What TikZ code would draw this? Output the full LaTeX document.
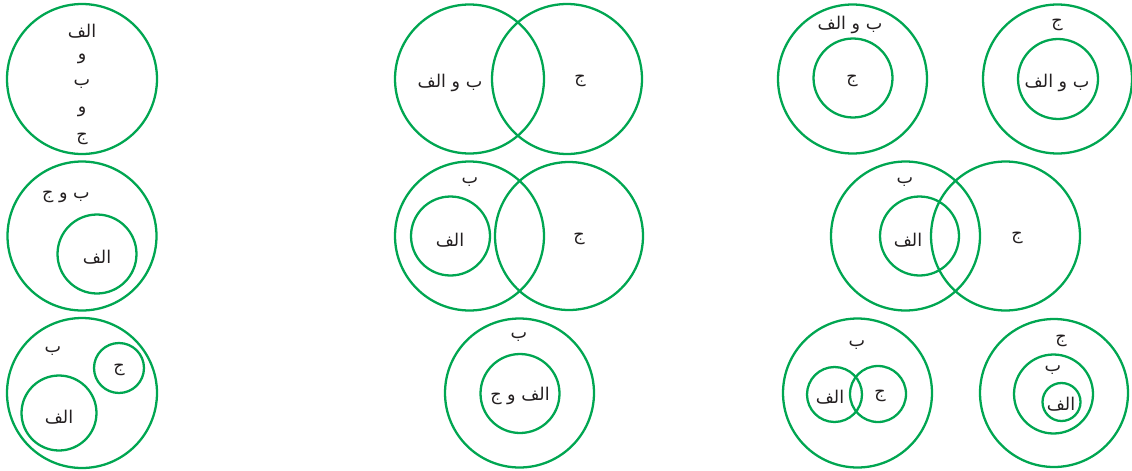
\documentclass[tikz,border=0pt]{standalone}
\usepackage{fontspec}
\newfontfamily\arabicfont[Script=Arabic]{DejaVu Sans}
\TeXXeTstate=1
\definecolor{ringgreen}{HTML}{00A651}
\definecolor{txt}{HTML}{231F20}
\tikzset{
  ring/.style={circle, draw=ringgreen, line width=1.3pt, inner sep=0pt, outer sep=0pt},
  lbl/.style={text=txt, inner sep=0pt, yshift=-1.5pt, font=\arabicfont\fontsize{10}{12}\selectfont}
}
\newcommand\ar[1]{\beginR #1\endR}
\begin{document}
\begin{tikzpicture}[x=0.02cm,y=-0.02cm]
\useasboundingbox (0,0) rectangle (1132,470);
% 1
\node[ring, minimum size=3.0cm] (c1) at (82,79) {};
\node[lbl] (t1a) at (82,29) {\ar{الف}};
\node[lbl] (t1b) at (82,56) {\ar{و}};
\node[lbl] (t1c) at (82,81) {\ar{ب}};
\node[lbl] (t1d) at (82,109) {\ar{و}};
\node[lbl] (t1e) at (82,136) {\ar{ج}};
% 2
\node[ring, minimum size=2.98cm] (c2o) at (82,236) {};
\node[ring, minimum size=1.58cm] (c2i) at (97,254) {};
\node[lbl] (t2a) at (66,194) {\ar{ب و ج}};
\node[lbl] (t2b) at (97,255) {\ar{الف}};
% 3
\node[ring, minimum size=3.0cm] (c3o) at (82,393) {};
\node[ring, minimum size=1.0cm] (c3j) at (119,368) {};
\node[ring, minimum size=1.5cm] (c3a) at (59,413) {};
\node[lbl] (t3a) at (53,348) {\ar{ب}};
\node[lbl] (t3b) at (119,367) {\ar{ج}};
\node[lbl] (t3c) at (59,415) {\ar{الف}};
% 4
\node[ring, minimum size=2.98cm] (c4l) at (469.5,79) {};
\node[ring, minimum size=3.0cm] (c4r) at (567,79) {};
\node[lbl] (t4a) at (450,80) {\ar{ب و الف}};
\node[lbl] (t4b) at (580,78) {\ar{ج}};
% 5
\node[ring, minimum size=2.98cm] (c5l) at (469.5,236) {};
\node[ring, minimum size=1.58cm] (c5i) at (450.5,236) {};
\node[ring, minimum size=2.96cm] (c5r) at (569,236) {};
\node[lbl] (t5a) at (470,179) {\ar{ب}};
\node[lbl] (t5b) at (450,238) {\ar{الف}};
\node[lbl] (t5c) at (579,236) {\ar{ج}};
% 6
\node[ring, minimum size=2.98cm] (c6o) at (519.5,393) {};
\node[ring, minimum size=1.58cm] (c6i) at (520,393.5) {};
\node[lbl] (t6a) at (519,334) {\ar{ب}};
\node[lbl] (t6b) at (520,393) {\ar{الف و ج}};
% 7
\node[ring, minimum size=2.98cm] (c7o) at (852.5,79) {};
\node[ring, minimum size=1.58cm] (c7i) at (853,78) {};
\node[lbl] (t7a) at (850,22) {\ar{ب و الف}};
\node[lbl] (t7b) at (852,78) {\ar{ج}};
% 8
\node[ring, minimum size=2.98cm] (c8o) at (1057.5,79) {};
\node[ring, minimum size=1.6cm] (c8i) at (1058,79) {};
\node[lbl] (t8a) at (1057,22) {\ar{ج}};
\node[lbl] (t8b) at (1057,80) {\ar{ب و الف}};
% 9
\node[ring, minimum size=2.98cm] (c9l) at (905.5,236) {};
\node[ring, minimum size=1.58cm] (c9i) at (919.5,236) {};
\node[ring, minimum size=2.98cm] (c9r) at (1005.5,236) {};
\node[lbl] (t9a) at (905,179) {\ar{ب}};
\node[lbl] (t9b) at (908,238) {\ar{الف}};
\node[lbl] (t9c) at (1017,235) {\ar{ج}};
% 10
\node[ring, minimum size=2.98cm] (c10o) at (857.5,393) {};
\node[ring, minimum size=1.1cm] (c10a) at (834.5,394.5) {};
\node[ring, minimum size=1.12cm] (c10j) at (878,394) {};
\node[lbl] (t10a) at (857,342) {\ar{ب}};
\node[lbl] (t10b) at (830,395) {\ar{الف}};
\node[lbl] (t10c) at (880,393) {\ar{ج}};
% 11
\node[ring, minimum size=2.96cm] (c11o) at (1054,393) {};
\node[ring, minimum size=1.58cm] (c11m) at (1053.5,394) {};
\node[ring, minimum size=0.76cm] (c11i) at (1061.5,402) {};
\node[lbl] (t11a) at (1061,338) {\ar{ج}};
\node[lbl] (t11b) at (1053,367) {\ar{ب}};
\node[lbl] (t11c) at (1061,402) {\ar{الف}};
\end{tikzpicture}
\end{document}
